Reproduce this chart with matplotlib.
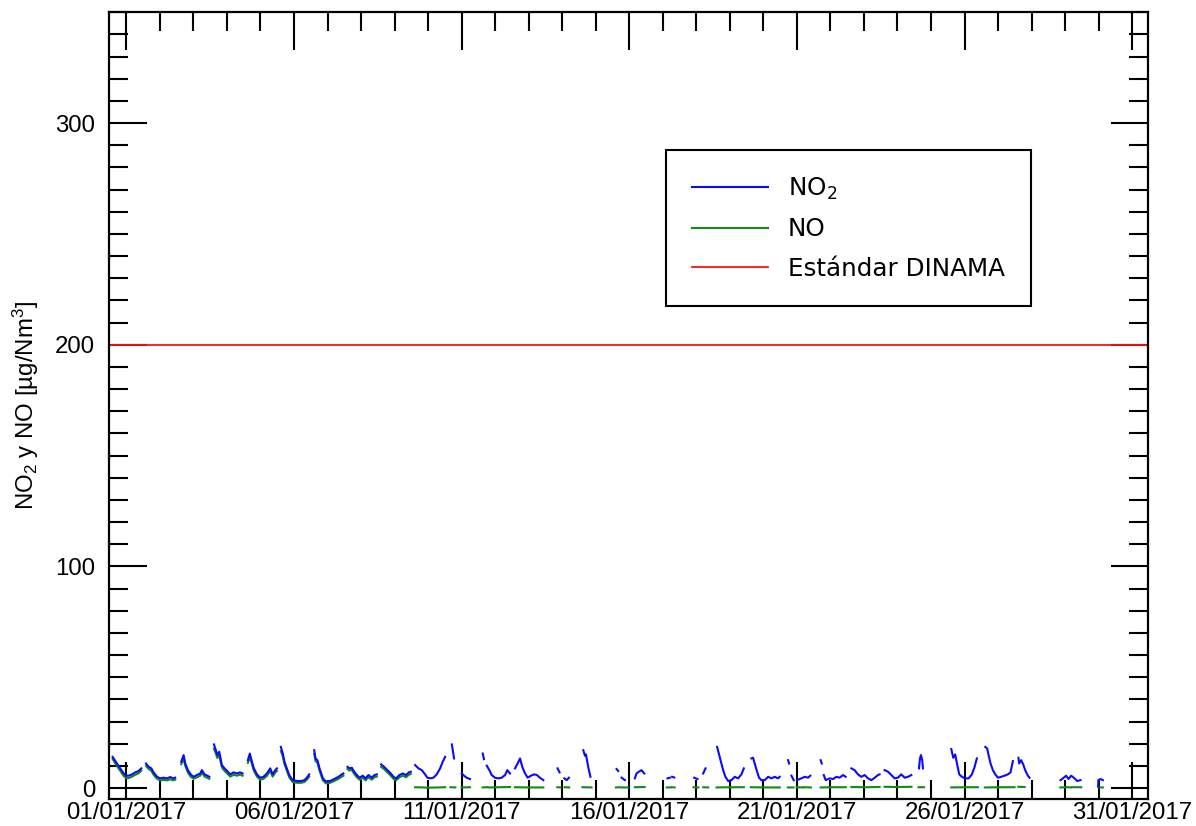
import numpy as np
import matplotlib
matplotlib.use("Agg")
import matplotlib.pyplot as plt
import matplotlib.dates as mdates
from matplotlib.ticker import MultipleLocator

nan = np.nan

# Hourly concentrations, hours counted from 01/01/2017 00:00; nan marks a gap.
no2_hours = [
    -9.8, -8.3, -6.7, -4.3, -1.9, -0.2, 1.7, 4.1, 6.4, 8.8, 10.7, nan,
    14.1, 16, 17.9, 19.5, 22, 24.3, 26.7, 29.1, 31.5, 33.4, 35, nan,
    39.3, 41, 42.2, 44.1, 46, 48.2, 50.5, 52.9, 54.1, 56, 58, 59.4, nan,
    62.7, 64.1, 65.1, 66.5, 68.4, 70.3, 72.2, 74.4, 76.8, 79.1, 81.5, 83.2, nan,
    87, 88.4, 89.9, 91.3, 93.5, 95.8, 98.2, 100.6, 103, 104.7, 106.6, 107.8, nan,
    110.6, 112, 113.2, 114.9, 116.6, 119, 122.1, 125.2, 127.5, 129.2, 130.9, nan,
    134.5, 135.4, 136.8, 138.3, 140.7, 143, 145.9, 148.8, 151.9, 154.2, 155.4, nan,
    158.3, 159.7, 161.4, 163.1, 165, 166.9, 169.3, 171.2, 173.3, 175.7, 177.6, 179.3, nan,
    182.4, 184.5, 186.9, 189.3, 191.2, 193.1, 195.5, 197.9, 200.3, 202.2, 203.6, nan,
    206.7, 209.1, 211.5, 213.4, 215.5, 217.4, 219.8, 222.2, 224.6, 226.5, 228.2, nan,
    233, 234.6, nan,
    240.1, 241.7, 243.6, 246, nan,
    255.1, 256, nan,
    258, 259.9, 261.5, 263.9, 266.3, 268.7, 271.1, 272.7, 274.6, nan,
    278.2, 280.1, 281.8, 283.4, 285.4, 287.3, 289.6, 292, 293.9, 296, 298.5, nan,
    308.7, 310.1, nan,
    313.5, 315.2, 316.8, nan,
    327.1, 328.3, 329.0, 330.6, 332.2, nan,
    350.9, 352.1, nan,
    354.5, 356.9, nan,
    364, 365.2, 366.9, 368.8, 370.7, nan,
    387.4, 389.1, nan,
    390.7, 392.2, nan,
    406.5, 408.8, nan,
    412.9, 414.6, nan,
    422.9, 424.1, 425.0, 426.2, 427.5, 428.8, 430.8, 433.1, 435.5, 437.9, 440.3, 442, nan,
    447.4, 448.6, 449.8, 451.5, 452.9, 454.6, 457, 459.4, 461.8, 464.1, 466.5, 467.7, nan,
    473.7, 474.4, nan,
    476.1, 477.7, nan,
    480.1, 483.2, 485.6, 488, 489.6, nan,
    497, 497.8, nan,
    499.2, 500.6, 503.5, 505.9, 508.2, 510.6, 513, 514.9, nan,
    519, 521.3, 523.7, 526.1, 528.5, 530.9, 533.3, 535.7, 538, 539.2, nan,
    542.8, 545.2, 547.6, 550, 552.3, 554.7, 557.1, 559.5, 561.9, nan,
    567.4, 568.1, 568.8, 569.7, 570.2, nan,
    590.5, 591.9, 593.3, 594.8, 596.2, 598.1, 600.5, 602.9, 605.3, 607.2, 608.8, nan,
    614.8, 616.2, 617.2, 618.6, 620.3, 622, 623.9, 626.2, 628.6, 631, 632.9, 634.6, nan,
    638.6, 639.1, 640.5, 642, 643.4, 645.3, 646.5, nan,
    668.7, 671, 672.7, 674.4, 676.3, 678.2, 680.6, 683, nan,
    695.6, 695.8, 697.3, 699,
]
no2_values = [
    14.1, 12.6, 11.1, 8.9, 6.6, 5.6, 5.6, 6.2, 7.1, 7.7, 8.9, nan,
    11.1, 9.6, 8.9, 7.1, 5.1, 4.4, 4.7, 4.4, 5.0, 4.4, 4.7, nan,
    11.9, 14.9, 11.1, 8.1, 6.2, 5.1, 5.9, 6.6, 8.1, 6.2, 5.6, 5.1, nan,
    19.7, 17.1, 14.9, 16.4, 10.4, 8.9, 7.7, 6.2, 7.1, 6.6, 7.1, 6.6, nan,
    12.6, 15.6, 11.9, 8.9, 6.2, 4.7, 5.1, 6.6, 8.9, 6.2, 8.1, 8.9, nan,
    18.6, 15.6, 11.9, 8.9, 5.9, 3.6, 3.2, 3.2, 3.6, 4.7, 6.2, nan,
    17.1, 13.4, 12.6, 8.9, 4.4, 2.9, 3.2, 4.1, 5.1, 6.2, 6.6, nan,
    9.6, 8.9, 9.2, 7.4, 5.9, 4.7, 5.6, 4.4, 5.9, 4.7, 5.9, 6.2, nan,
    10.7, 9.6, 8.1, 6.6, 5.1, 4.4, 5.9, 6.6, 5.9, 7.1, 7.4, nan,
    10.4, 8.9, 8.1, 6.6, 4.7, 4.4, 4.7, 6.2, 8.9, 11.9, 14.1, nan,
    19.7, 13.4, nan,
    6.6, 5.6, 4.7, 4.1, nan,
    15.6, 13.1, nan,
    10.1, 8.1, 5.9, 4.7, 4.4, 4.7, 5.9, 8.1, 6.6, nan,
    8.9, 11.1, 13.4, 9.6, 6.6, 4.7, 5.6, 6.2, 5.9, 4.7, 3.6, nan,
    8.9, 7.1, nan,
    4.4, 3.6, 4.7, nan,
    17.1, 14.6, 15.2, 9.6, 5.1, nan,
    8.6, 7.7, nan,
    4.7, 3.6, nan,
    4.4, 6.6, 7.4, 8.1, 6.6, nan,
    4.4, 4.7, nan,
    5.1, 4.8, nan,
    4.7, 4.1, nan,
    6.6, 8.9, nan,
    18.6, 15.6, 13.5, 10.5, 7.5, 5.1, 3.2, 3.6, 5.1, 4.4, 6.2, 8.9, nan,
    13.4, 13.7, 11.1, 7.4, 4.7, 3.6, 3.6, 5.1, 4.4, 5.1, 4.4, 5.1, nan,
    12.6, 11.1, nan,
    5.6, 3.6, nan,
    3.6, 4.4, 5.1, 4.7, 5.6, nan,
    12.6, 11.1, nan,
    5.9, 3.6, 4.4, 4.1, 5.1, 4.7, 5.9, 5.1, nan,
    8.9, 8.1, 6.2, 5.1, 5.9, 4.4, 3.6, 4.7, 5.9, 6.2, nan,
    8.1, 7.4, 5.9, 4.4, 4.7, 6.2, 4.7, 5.1, 5.9, nan,
    8.9, 13.4, 14.9, 12.6, 8.9, nan,
    17.6, 13.7, 15.2, 10.4, 6.2, 5.1, 4.4, 4.4, 6.2, 9.6, 13.4, nan,
    18.6, 17.9, 14.9, 11.1, 8.1, 6.2, 4.7, 5.1, 5.6, 6.2, 7.1, 12.2, nan,
    13.7, 11.1, 12.6, 10.7, 8.1, 5.6, 4.7, nan,
    3.6, 4.7, 5.6, 4.1, 5.6, 4.7, 3.2, 3.6, nan,
    0.6, 3.6, 4.1, 3.6,
]

no_hours = [
    -9.8, -8.3, -6.7, -4.3, -1.9, -0.2, 1.7, 4.1, 6.4, 8.8, 10.7, nan,
    14.1, 16, 17.9, 19.5, 22, 24.3, 26.7, 29.1, 31.5, 33.4, 35, nan,
    39.3, 41, 42.2, 44.1, 46, 48.2, 50.5, 52.9, 54.1, 56, 58, 59.4, nan,
    62.7, 64.1, 65.1, 66.5, 68.4, 70.3, 72.2, 74.4, 76.8, 79.1, 81.5, 83.2, nan,
    87, 88.4, 89.9, 91.3, 93.5, 95.8, 98.2, 100.6, 103, 104.7, 106.6, 107.8, nan,
    110.6, 112, 113.2, 114.9, 116.6, 119, 122.1, 125.2, 127.5, 129.2, 130.9, nan,
    134.5, 135.4, 136.8, 138.3, 140.7, 143, 145.9, 148.8, 151.9, 154.2, 155.4, nan,
    158.3, 159.7, 161.4, 163.1, 165, 166.9, 169.3, 171.2, 173.3, 175.7, 177.6, 179.3, nan,
    182.4, 184.5, 186.9, 189.3, 191.2, 193.1, 195.5, 197.9, 200.3, 202.2, 203.6, nan,
    206.7, 212, 217.4, 222.2, 228.2, nan,
    232, 235.5, nan, 240, 246, nan,
    255, 258.3, nan, 259.5, 267, 274.6, nan,
    278.2, 288, 298.5, nan,
    308.5, 311, nan, 313.8, 317, nan,
    326.5, 333, nan,
    350.5, 352.8, nan, 354.2, 359, nan, 364, 371, nan,
    386.8, 389.5, nan, 390.8, 392.5, nan,
    406, 409.5, nan, 413, 416.5, nan,
    422.5, 432, 442, nan,
    447, 457, 467.7, nan,
    473.5, 477.5, nan, 479.8, 484, nan, 485, 490, nan,
    497, 506, 515, nan,
    519, 529, 539.2, nan,
    542.8, 552, 562, nan,
    567, 571, nan,
    590.5, 600, 609.5, nan,
    614.5, 625, 635.8, nan,
    638.5, 643, nan,
    668.5, 673, nan, 674.5, 676, nan, 677, 683.5, nan,
    696.5, 699,
]
no_values = [
    13.2, 11.5, 10.0, 7.8, 5.5, 4.6, 4.5, 5.2, 6.0, 6.7, 7.9, nan,
    10.0, 8.6, 7.8, 6.0, 4.2, 3.5, 3.7, 3.5, 4.0, 3.5, 3.8, nan,
    10.8, 13.2, 10.0, 7.0, 5.2, 4.2, 4.9, 5.6, 7.0, 5.2, 4.6, 4.2, nan,
    17.8, 15.6, 13.6, 14.8, 9.3, 7.8, 6.6, 5.2, 6.0, 5.6, 6.1, 5.6, nan,
    11.4, 14.1, 10.8, 7.8, 5.2, 3.8, 4.2, 5.5, 7.8, 5.2, 7.0, 7.8, nan,
    16.8, 14.2, 10.8, 7.8, 4.9, 2.8, 2.4, 2.4, 2.8, 3.8, 5.2, nan,
    15.5, 12.2, 11.4, 7.8, 3.5, 2.1, 2.4, 3.2, 4.2, 5.2, 5.6, nan,
    8.6, 7.9, 8.2, 6.4, 4.9, 3.8, 4.6, 3.5, 4.9, 3.8, 4.9, 5.2, nan,
    9.6, 8.6, 7.1, 5.6, 4.2, 3.5, 4.9, 5.6, 4.9, 6.0, 6.4, nan,
    0.4, 0.3, 0.2, 0.3, 0.4, nan,
    0.4, 0.3, nan, 0.3, 0.4, nan,
    0.3, 0.4, nan, 0.3, 0.4, 0.5, nan,
    0.4, 0.3, 0.3, nan,
    0.4, 0.3, nan, 0.4, 0.3, nan,
    0.4, 0.3, nan,
    0.3, 0.4, nan, 0.3, 0.3, nan, 0.4, 0.5, nan,
    0.3, 0.3, nan, 0.4, 0.3, nan,
    0.4, 0.3, nan, 0.4, 0.3, nan,
    0.3, 0.4, 0.4, nan,
    0.4, 0.3, 0.3, nan,
    0.3, 0.3, nan, 0.4, 0.3, nan, 0.4, 0.3, nan,
    0.3, 0.4, 0.4, nan,
    0.5, 0.4, 0.5, nan,
    0.6, 0.5, 0.6, nan,
    0.4, 0.4, nan,
    0.3, 0.4, 0.4, nan,
    0.3, 0.4, 0.4, nan,
    0.6, 0.5, nan,
    0.3, 0.4, nan, 0.4, 0.3, nan, 0.4, 0.4, nan,
    0.3, 0.3,
]

standard_limit = 200
labels = ["NO$\\mathregular{_2}$", "NO", "Estándar DINAMA"]
y_label = "NO$\\mathregular{_2}$ y NO [µg/Nm$\\mathregular{^3}$]"

start = mdates.date2num(np.datetime64("2017-01-01T00:00"))


def to_dates(hours):
    return start + np.asarray(hours, dtype=float) / 24.0


fig = plt.figure(figsize=(11.96, 8.26), dpi=100)
ax = fig.add_axes([0.09114, 0.03245, 0.86848, 0.95266])

tick_font = "Liberation Sans"

l_no, = ax.plot(to_dates(no_hours), no_values, color="#138a13", lw=1.5, zorder=2)
l_no2, = ax.plot(to_dates(no2_hours), no2_values, color="#0a0aff", lw=1.5, zorder=2.1)
l_std = ax.axhline(standard_limit, color="#ff1010", lw=1.3, zorder=1.9)

ax.set_xlim(to_dates(-12.4), to_dates(731.1))
ax.set_ylim(-5, 350)

ax.xaxis.set_major_locator(mdates.DayLocator(bymonthday=[1, 6, 11, 16, 21, 26, 31]))
ax.xaxis.set_minor_locator(mdates.DayLocator())
ax.xaxis.set_major_formatter(mdates.DateFormatter("%d/%m/%Y"))
ax.yaxis.set_major_locator(MultipleLocator(100))
ax.yaxis.set_minor_locator(MultipleLocator(10))

ax.tick_params(which="both", direction="in", top=True, right=True,
               width=1.5, colors="black", labelsize=17.3)
ax.tick_params(which="major", length=27)
ax.tick_params(which="minor", length=13.5)
ax.tick_params(axis="x", which="major", pad=1.8)
ax.tick_params(axis="y", which="major", pad=10)
for lab in ax.get_xticklabels() + ax.get_yticklabels():
    lab.set_fontfamily(tick_font)

for sp in ax.spines.values():
    sp.set_linewidth(1.6)

ax.set_ylabel(y_label, fontsize=17.3, fontfamily=tick_font)
ax.yaxis.set_label_coords(-0.065, 0.5)

leg = ax.legend([l_no2, l_no, l_std], labels, loc="upper left",
                bbox_to_anchor=(0.5363, 0.825), borderaxespad=0,
                prop={"family": "DejaVu Sans", "size": 17.7},
                fancybox=False, shadow=False, framealpha=1,
                edgecolor="black", handlelength=3.1, handletextpad=0.8,
                borderpad=1.05, labelspacing=0.62)
leg.get_frame().set_linewidth(1.5)

fig.savefig("out.png", dpi=100)
